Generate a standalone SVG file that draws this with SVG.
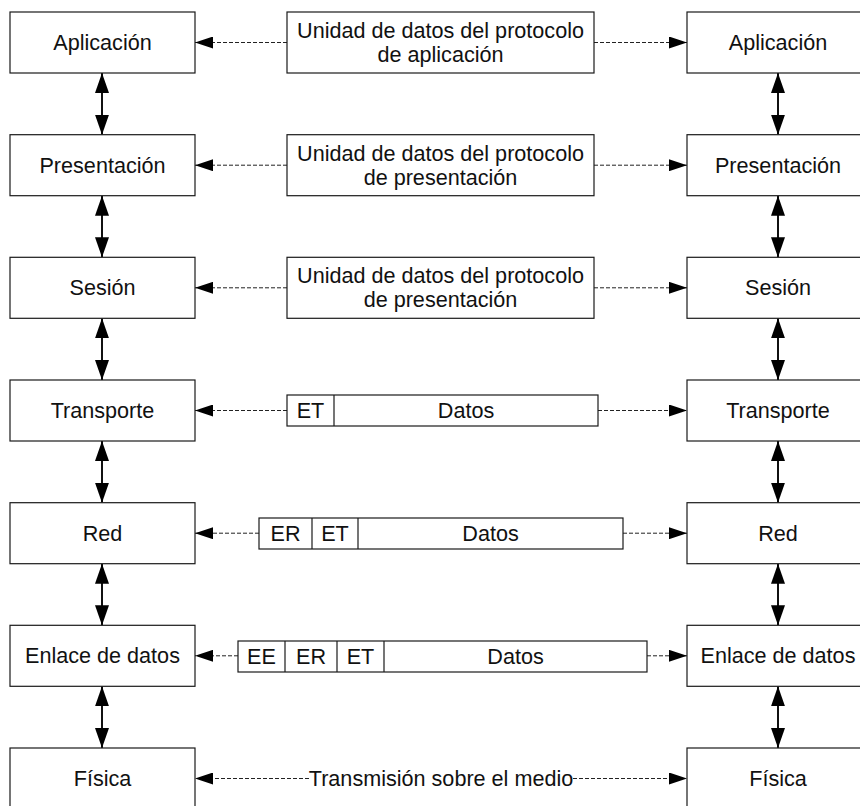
<svg xmlns="http://www.w3.org/2000/svg" width="860" height="806" viewBox="0 0 860 806">
  <style>
    .box { fill: #ffffff; stroke: #1a1a1a; stroke-width: 1.2; }
    .lbl { font-family: "Liberation Sans", Arial, sans-serif; font-size: 21.6px; fill: #111111; text-anchor: middle; }
    .dash { stroke: #222222; stroke-width: 1; stroke-dasharray: 4 2; fill: none; }
    .vert { stroke: #111111; stroke-width: 2; fill: none; }
  </style>
  <defs>
    <marker id="headSmall" markerUnits="userSpaceOnUse" markerWidth="18" markerHeight="12" refX="18" refY="6" orient="auto-start-reverse">
      <path d="M0,0 L18,6 L0,12 z" fill="#000000" stroke="none"/>
    </marker>
    <marker id="headBig" markerUnits="userSpaceOnUse" markerWidth="20" markerHeight="14" refX="20" refY="7" orient="auto-start-reverse">
      <path d="M0,0 L20,7 L0,14 z" fill="#000000" stroke="none"/>
    </marker>
  </defs>

  <!-- connectors -->
  <g id="connectors">
    <!-- vertical links between layers, left stack -->
    <line class="vert" x1="102" y1="73" x2="102" y2="134.7" marker-start="url(#headBig)" marker-end="url(#headBig)"/>
    <line class="vert" x1="102" y1="195.7" x2="102" y2="257.3" marker-start="url(#headBig)" marker-end="url(#headBig)"/>
    <line class="vert" x1="102" y1="318.3" x2="102" y2="380" marker-start="url(#headBig)" marker-end="url(#headBig)"/>
    <line class="vert" x1="102" y1="441" x2="102" y2="502.7" marker-start="url(#headBig)" marker-end="url(#headBig)"/>
    <line class="vert" x1="102" y1="563.7" x2="102" y2="625.3" marker-start="url(#headBig)" marker-end="url(#headBig)"/>
    <line class="vert" x1="102" y1="686.3" x2="102" y2="748" marker-start="url(#headBig)" marker-end="url(#headBig)"/>
    <!-- vertical links, right stack -->
    <line class="vert" x1="778" y1="73" x2="778" y2="134.7" marker-start="url(#headBig)" marker-end="url(#headBig)"/>
    <line class="vert" x1="778" y1="195.7" x2="778" y2="257.3" marker-start="url(#headBig)" marker-end="url(#headBig)"/>
    <line class="vert" x1="778" y1="318.3" x2="778" y2="380" marker-start="url(#headBig)" marker-end="url(#headBig)"/>
    <line class="vert" x1="778" y1="441" x2="778" y2="502.7" marker-start="url(#headBig)" marker-end="url(#headBig)"/>
    <line class="vert" x1="778" y1="563.7" x2="778" y2="625.3" marker-start="url(#headBig)" marker-end="url(#headBig)"/>
    <line class="vert" x1="778" y1="686.3" x2="778" y2="748" marker-start="url(#headBig)" marker-end="url(#headBig)"/>

    <!-- peer-to-peer dashed links -->
    <line class="dash" x1="287" y1="42.5" x2="195" y2="42.5" marker-end="url(#headSmall)"/>
    <line class="dash" x1="594" y1="42.5" x2="687" y2="42.5" marker-end="url(#headSmall)"/>
    <line class="dash" x1="287" y1="165.2" x2="195" y2="165.2" marker-end="url(#headSmall)"/>
    <line class="dash" x1="594" y1="165.2" x2="687" y2="165.2" marker-end="url(#headSmall)"/>
    <line class="dash" x1="287" y1="287.8" x2="195" y2="287.8" marker-end="url(#headSmall)"/>
    <line class="dash" x1="594" y1="287.8" x2="687" y2="287.8" marker-end="url(#headSmall)"/>
    <line class="dash" x1="287" y1="410.5" x2="195" y2="410.5" marker-end="url(#headSmall)"/>
    <line class="dash" x1="598" y1="410.5" x2="687" y2="410.5" marker-end="url(#headSmall)"/>
    <line class="dash" x1="259" y1="533.2" x2="195" y2="533.2" marker-end="url(#headSmall)"/>
    <line class="dash" x1="623" y1="533.2" x2="687" y2="533.2" marker-end="url(#headSmall)"/>
    <line class="dash" x1="238" y1="655.8" x2="195" y2="655.8" marker-end="url(#headSmall)"/>
    <line class="dash" x1="647" y1="655.8" x2="687" y2="655.8" marker-end="url(#headSmall)"/>
    <line class="dash" x1="309" y1="778.5" x2="195" y2="778.5" marker-end="url(#headSmall)"/>
    <line class="dash" x1="573" y1="778.5" x2="687" y2="778.5" marker-end="url(#headSmall)"/>
  </g>

  <!-- left stack -->
  <g id="left-aplicacion"><rect class="box" x="10" y="12" width="185" height="61"/><text class="lbl" x="102.5" y="50">Aplicación</text></g>
  <g id="left-presentacion"><rect class="box" x="10" y="134.7" width="185" height="61"/><text class="lbl" x="102.5" y="172.7">Presentación</text></g>
  <g id="left-sesion"><rect class="box" x="10" y="257.3" width="185" height="61"/><text class="lbl" x="102.5" y="295.3">Sesión</text></g>
  <g id="left-transporte"><rect class="box" x="10" y="380" width="185" height="61"/><text class="lbl" x="102.5" y="418">Transporte</text></g>
  <g id="left-red"><rect class="box" x="10" y="502.7" width="185" height="61"/><text class="lbl" x="102.5" y="540.7">Red</text></g>
  <g id="left-enlace"><rect class="box" x="10" y="625.3" width="185" height="61"/><text class="lbl" x="102.5" y="663.3">Enlace de datos</text></g>
  <g id="left-fisica"><rect class="box" x="10" y="748" width="185" height="61"/><text class="lbl" x="102.5" y="786">Física</text></g>

  <!-- right stack -->
  <g id="right-aplicacion"><rect class="box" x="687" y="12" width="185" height="61"/><text class="lbl" x="778" y="50">Aplicación</text></g>
  <g id="right-presentacion"><rect class="box" x="687" y="134.7" width="185" height="61"/><text class="lbl" x="778" y="172.7">Presentación</text></g>
  <g id="right-sesion"><rect class="box" x="687" y="257.3" width="185" height="61"/><text class="lbl" x="778" y="295.3">Sesión</text></g>
  <g id="right-transporte"><rect class="box" x="687" y="380" width="185" height="61"/><text class="lbl" x="778" y="418">Transporte</text></g>
  <g id="right-red"><rect class="box" x="687" y="502.7" width="185" height="61"/><text class="lbl" x="778" y="540.7">Red</text></g>
  <g id="right-enlace"><rect class="box" x="687" y="625.3" width="185" height="61"/><text class="lbl" x="778" y="663.3">Enlace de datos</text></g>
  <g id="right-fisica"><rect class="box" x="687" y="748" width="185" height="61"/><text class="lbl" x="778" y="786">Física</text></g>

  <!-- protocol data units -->
  <g id="pdu-aplicacion">
    <rect class="box" x="287" y="12" width="307" height="61"/>
    <text class="lbl" x="440.5" y="38">Unidad de datos del protocolo</text>
    <text class="lbl" x="440.5" y="62">de aplicación</text>
  </g>
  <g id="pdu-presentacion">
    <rect class="box" x="287" y="134.7" width="307" height="61"/>
    <text class="lbl" x="440.5" y="160.7">Unidad de datos del protocolo</text>
    <text class="lbl" x="440.5" y="184.7">de presentación</text>
  </g>
  <g id="pdu-sesion">
    <rect class="box" x="287" y="257.3" width="307" height="61"/>
    <text class="lbl" x="440.5" y="283.3">Unidad de datos del protocolo</text>
    <text class="lbl" x="440.5" y="307.3">de presentación</text>
  </g>
  <g id="pdu-transporte">
    <rect class="box" x="287" y="395" width="311" height="31"/>
    <line x1="334" y1="395" x2="334" y2="426" stroke="#1a1a1a" stroke-width="1.2"/>
    <text class="lbl" x="310.5" y="418">ET</text>
    <text class="lbl" x="466" y="418">Datos</text>
  </g>
  <g id="pdu-red">
    <rect class="box" x="259" y="518" width="364" height="31"/>
    <line x1="312" y1="518" x2="312" y2="549" stroke="#1a1a1a" stroke-width="1.2"/>
    <line x1="358" y1="518" x2="358" y2="549" stroke="#1a1a1a" stroke-width="1.2"/>
    <text class="lbl" x="285.5" y="541">ER</text>
    <text class="lbl" x="335" y="541">ET</text>
    <text class="lbl" x="490.5" y="541">Datos</text>
  </g>
  <g id="pdu-enlace">
    <rect class="box" x="238" y="641" width="409" height="31"/>
    <line x1="285" y1="641" x2="285" y2="672" stroke="#1a1a1a" stroke-width="1.2"/>
    <line x1="337" y1="641" x2="337" y2="672" stroke="#1a1a1a" stroke-width="1.2"/>
    <line x1="384" y1="641" x2="384" y2="672" stroke="#1a1a1a" stroke-width="1.2"/>
    <text class="lbl" x="261.5" y="664">EE</text>
    <text class="lbl" x="311" y="664">ER</text>
    <text class="lbl" x="360.5" y="664">ET</text>
    <text class="lbl" x="515.5" y="664">Datos</text>
  </g>
  <g id="medio">
    <text class="lbl" x="441" y="786">Transmisión sobre el medio</text>
  </g>
</svg>
